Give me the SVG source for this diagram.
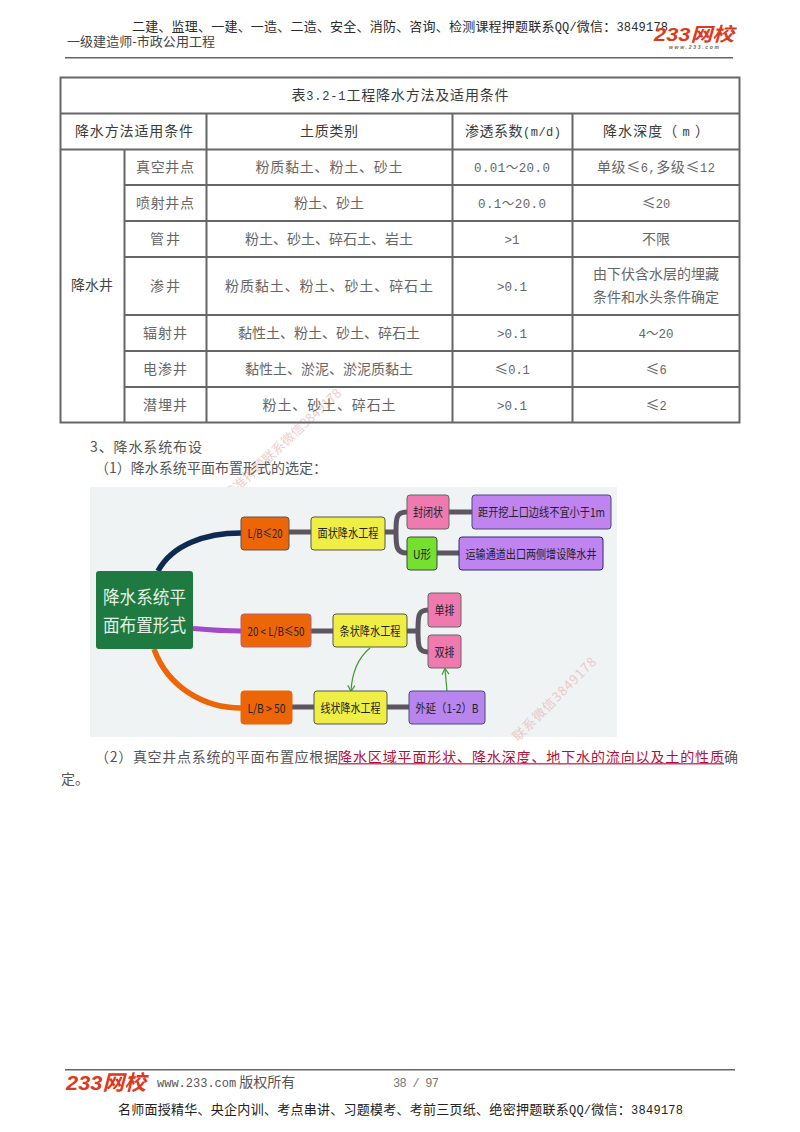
<svg xmlns="http://www.w3.org/2000/svg" width="800" height="1132" viewBox="0 0 800 1132">
<defs>
<marker id="ga" markerWidth="9" markerHeight="9" refX="6.5" refY="4" orient="auto" markerUnits="userSpaceOnUse"><path d="M1 0.5L7 4L1 7.5" fill="none" stroke="#3f9a2e" stroke-width="1.2"/></marker>
</defs>
<style>
text{font-family:"Noto Sans CJK SC","Liberation Sans",sans-serif}
.h{font-size:13px;fill:#2a2a2a}
.th{font-size:14px;fill:#3a3a3a;text-anchor:middle}
.td{font-size:14px;fill:#666;text-anchor:middle}
.p{font-size:14px;fill:#555}
.a{font-family:"Liberation Mono","Noto Sans CJK SC",monospace;font-size:12px}
.d{font-family:"Liberation Mono","Noto Sans CJK SC",monospace;font-size:12.5px}
.le{font-family:"Noto Sans CJK SC",sans-serif;font-size:14px}
.g{fill:none;stroke:#666;stroke-width:2}
.n{stroke-width:1}
.m{font-family:"Noto Sans CJK SC","Liberation Sans",sans-serif;font-size:12px;fill:#222;text-anchor:middle}
.k{fill:none;stroke:#5d5560;stroke-width:5}
.wm{font-size:13px;fill:#e8b8b8;opacity:.7}
.logo{font-family:"Liberation Sans","Noto Sans CJK SC",sans-serif;font-weight:700;font-style:italic;fill:#dc3a1e}
</style>
<rect width="800" height="1132" fill="#fff"/>

<g id="watermarks">
<text class="wm" transform="translate(229 500) rotate(-43)" textLength="155" lengthAdjust="spacing">精准押题联系微信3849178</text>
</g>

<g id="header">
<text class="h" x="132" y="30.500" textLength="536" lengthAdjust="spacing">二建、监理、一建、一造、二造、安全、消防、咨询、检测课程押题联系<tspan class="a">QQ/</tspan>微信：<tspan class="a">3849178</tspan></text>
<text class="h" x="67" y="45.500" textLength="148" lengthAdjust="spacing" style="fill:#444">一级建造师-市政公用工程</text>
<text class="logo" x="654" y="41" font-size="19" textLength="80" lengthAdjust="spacingAndGlyphs">233网校</text>
<text x="669" y="49" font-size="5" fill="#666" textLength="50" style="font-family:'Liberation Sans',sans-serif;font-style:italic;font-weight:700">www.233.com</text>
<rect x="65" y="57" width="668" height="1.5" fill="#666"/>
</g>

<g id="table">
<rect class="g" x="60.500" y="77.500" width="679" height="345"/>
<path class="g" d="M60 113.500H739M60 149.500H739M124 185H739M124 221H739M124 257H739M124 315H739M124 351H739M124 387H739"/>
<path class="g" d="M124.500 149V422M206.500 113V422M452.500 113V422M572.500 113V422"/>
<text class="th" x="400" y="100" textLength="217" lengthAdjust="spacing">表<tspan class="a">3.2-1</tspan>工程降水方法及适用条件</text>
<text class="th" x="134" y="136" textLength="118" lengthAdjust="spacing">降水方法适用条件</text>
<text class="th" x="329" y="136" textLength="58" lengthAdjust="spacing">土质类别</text>
<text class="th" x="513" y="136" textLength="96" lengthAdjust="spacing">渗透系数<tspan class="a">(m/d)</tspan></text>
<text class="th" x="656" y="136" textLength="106" lengthAdjust="spacing">降水深度（ <tspan class="a">m</tspan> ）</text>
<text class="td" x="92" y="290" style="fill:#444">降水井</text>
<g id="rows">
<text class="td" x="165" y="172" textLength="58" lengthAdjust="spacing">真空井点</text>
<text class="td" x="329" y="172" textLength="147" lengthAdjust="spacing">粉质黏土、粉土、砂土</text>
<text class="td d" x="512" y="172" textLength="76" lengthAdjust="spacing">0.01～20.0</text>
<text class="td" x="656" y="172" textLength="118" lengthAdjust="spacing">单级<tspan class="le">≤</tspan><tspan class="a">6,</tspan>多级<tspan class="le">≤</tspan><tspan class="a">12</tspan></text>
<text class="td" x="165" y="208" textLength="58" lengthAdjust="spacing">喷射井点</text>
<text class="td" x="329" y="208">粉土、砂土</text>
<text class="td d" x="512" y="208" textLength="68" lengthAdjust="spacing">0.1～20.0</text>
<text class="td" x="656" y="208"><tspan class="le">≤</tspan><tspan class="a">20</tspan></text>
<text class="td" x="165" y="244" textLength="30" lengthAdjust="spacing">管井</text>
<text class="td" x="329" y="244">粉土、砂土、碎石土、岩土</text>
<text class="td d" x="512" y="244">&gt;1</text>
<text class="td" x="656" y="244">不限</text>
<text class="td" x="165" y="291" textLength="30" lengthAdjust="spacing">渗井</text>
<text class="td" x="329" y="291" textLength="208" lengthAdjust="spacing">粉质黏土、粉土、砂土、碎石土</text>
<text class="td d" x="512" y="291">&gt;0.1</text>
<text class="td" x="656" y="279">由下伏含水层的埋藏</text>
<text class="td" x="656" y="302">条件和水头条件确定</text>
<text class="td" x="165" y="338" textLength="44" lengthAdjust="spacing">辐射井</text>
<text class="td" x="329" y="338">黏性土、粉土、砂土、碎石土</text>
<text class="td d" x="512" y="338">&gt;0.1</text>
<text class="td d" x="656" y="338">4～20</text>
<text class="td" x="165" y="374" textLength="44" lengthAdjust="spacing">电渗井</text>
<text class="td" x="329" y="374">黏性土、淤泥、淤泥质黏土</text>
<text class="td" x="512" y="374"><tspan class="le">≤</tspan><tspan class="a">0.1</tspan></text>
<text class="td" x="656" y="374"><tspan class="le">≤</tspan><tspan class="a">6</tspan></text>
<text class="td" x="165" y="410" textLength="44" lengthAdjust="spacing">潜埋井</text>
<text class="td" x="329" y="410" textLength="133" lengthAdjust="spacing">粉土、砂土、碎石土</text>
<text class="td d" x="512" y="410">&gt;0.1</text>
<text class="td" x="656" y="410"><tspan class="le">≤</tspan><tspan class="a">2</tspan></text>
</g>
</g>

<g id="body-text">
<text class="p" x="90" y="452" textLength="112" lengthAdjust="spacing">3、降水系统布设</text>
<text class="p" x="95" y="473" textLength="232" lengthAdjust="spacing">（1）降水系统平面布置形式的选定：</text>
<text class="p" x="95" y="762" textLength="243" lengthAdjust="spacing">（2）真空井点系统的平面布置应根据</text>
<text class="p" x="338" y="762" textLength="386" lengthAdjust="spacing" style="fill:#b0103a">降水区域平面形状、降水深度、地下水的流向以及土的性质</text>
<rect x="338" y="763" width="386" height="1.500" fill="#c44a68"/>
<text class="p" x="724" y="762">确</text>
<text class="p" x="61" y="784">定。</text>
</g>

<rect id="diagram-bg" x="90" y="487" width="527" height="250" fill="#eff3f4"/>

<g id="connectors" fill="none">
<path d="M158 571C172 545 205 533 241 533" stroke="#0e2a4e" stroke-width="5.500"/>
<path d="M193 628.500C210 630 225 631 241 631" stroke="#a24ac8" stroke-width="5"/>
<path d="M154 649C168 688 205 708 241 708" stroke="#ec6608" stroke-width="5.500"/>
<path class="k" d="M289 532H311M311 631H333M292 707H314M387 707H409M385 532H396M449 512H472M437 553H459M407 631H418"/>
<path class="k" d="M407 512C396 512 396 518 396 532C396 546 396 553 407 553"/>
<path class="k" d="M428 610C418 610 418 616 418 631C418 645 418 652 428 652"/>
<path d="M370 648C358 658 352 672 351 691" stroke="#3f9a2e" stroke-width="1.200" marker-end="url(#ga)"/>
<path d="M447 691L445 669" stroke="#3f9a2e" stroke-width="1.200" marker-end="url(#ga)"/>
</g>

<g id="n-root"><rect x="96" y="571" width="97" height="78" rx="3" fill="#1e7a40"/>
<text class="m" x="144.500" y="604" textLength="83" lengthAdjust="spacingAndGlyphs" style="font-size:18px;fill:#e4f2e6">降水系统平</text>
<text class="m" x="144.500" y="632" textLength="83" lengthAdjust="spacingAndGlyphs" style="font-size:18px;fill:#e4f2e6">面布置形式</text></g>
<g id="n-lb20"><rect class="n" x="241" y="517" width="48" height="33" rx="3" fill="#ec6608" stroke="#555"/><text class="m" x="265" y="538" textLength="35" lengthAdjust="spacingAndGlyphs">L/B≤20</text></g>
<g id="n-mian"><rect class="n" x="311" y="517" width="74" height="33" rx="3" fill="#eeee44" stroke="#555"/><text class="m" x="348" y="538" textLength="61" lengthAdjust="spacingAndGlyphs">面状降水工程</text></g>
<g id="n-lb50"><rect class="n" x="241" y="614" width="70" height="33" rx="3" fill="#ec6608" stroke="#c05a80"/><text class="m" x="276" y="636" textLength="57" lengthAdjust="spacingAndGlyphs">20 &lt; L/B≤50</text></g>
<g id="n-tiao"><rect class="n" x="333" y="614" width="74" height="33" rx="3" fill="#eeee44" stroke="#555"/><text class="m" x="370" y="636" textLength="61" lengthAdjust="spacingAndGlyphs">条状降水工程</text></g>
<g id="n-lbg50"><rect class="n" x="241" y="691" width="51" height="33" rx="3" fill="#ec6608" stroke="#ec6608"/><text class="m" x="266.500" y="713" textLength="38" lengthAdjust="spacingAndGlyphs">L/B &gt; 50</text></g>
<g id="n-xian"><rect class="n" x="314" y="691" width="73" height="33" rx="3" fill="#eeee44" stroke="#555"/><text class="m" x="350.500" y="713" textLength="60" lengthAdjust="spacingAndGlyphs">线状降水工程</text></g>
<g id="n-feng"><rect class="n" x="407" y="495" width="42" height="34" rx="3" fill="#ee7ab0" stroke="#666"/><text class="m" x="428" y="517" textLength="30" lengthAdjust="spacingAndGlyphs">封闭状</text></g>
<g id="n-ju"><rect class="n" x="472" y="495" width="139" height="34" rx="3" fill="#c084f0" stroke="#4a4a7a"/><text class="m" x="541.500" y="517" textLength="127" lengthAdjust="spacingAndGlyphs">距开挖上口边线不宜小于1m</text></g>
<g id="n-u"><rect class="n" x="407" y="537" width="30" height="33" rx="3" fill="#76e030" stroke="#444"/><text class="m" x="422" y="559" textLength="18" lengthAdjust="spacingAndGlyphs">U形</text></g>
<g id="n-yun"><rect class="n" x="459" y="537" width="144" height="33" rx="3" fill="#c084f0" stroke="#2a2a7a"/><text class="m" x="531" y="559" textLength="131" lengthAdjust="spacingAndGlyphs">运输通道出口两侧增设降水井</text></g>
<g id="n-dan"><rect class="n" x="428" y="593" width="33" height="34" rx="3" fill="#ee7ab0" stroke="#666"/><text class="m" x="444.500" y="615" textLength="20" lengthAdjust="spacingAndGlyphs">单排</text></g>
<g id="n-shuang"><rect class="n" x="428" y="635" width="33" height="33" rx="3" fill="#ee7ab0" stroke="#666"/><text class="m" x="444.500" y="657" textLength="20" lengthAdjust="spacingAndGlyphs">双排</text></g>
<g id="n-wai"><rect class="n" x="409" y="691" width="76" height="33" rx="3" fill="#b884ee" stroke="#4a4a7a"/><text class="m" x="447" y="713" textLength="63" lengthAdjust="spacingAndGlyphs">外延（1-2）B</text></g>

<text class="wm" transform="translate(518 742) rotate(-45)" textLength="112" lengthAdjust="spacing">联系微信3849178</text>

<g id="footer">
<rect x="65" y="1069" width="670" height="1.500" fill="#666"/>
<text class="logo" x="66" y="1090" font-size="21" textLength="80" lengthAdjust="spacingAndGlyphs">233网校</text>
<text x="157" y="1087" font-size="14" fill="#555"><tspan class="a">www.233.com</tspan> 版权所有</text>
<text x="393" y="1087" class="a" fill="#777" textLength="46" lengthAdjust="spacing">38 / 97</text>
<text x="118" y="1114" font-size="13" fill="#222" textLength="565" lengthAdjust="spacing">名师面授精华、央企内训、考点串讲、习题模考、考前三页纸、绝密押题联系<tspan class="a">QQ/</tspan>微信：<tspan class="a">3849178</tspan></text>
</g>
</svg>
